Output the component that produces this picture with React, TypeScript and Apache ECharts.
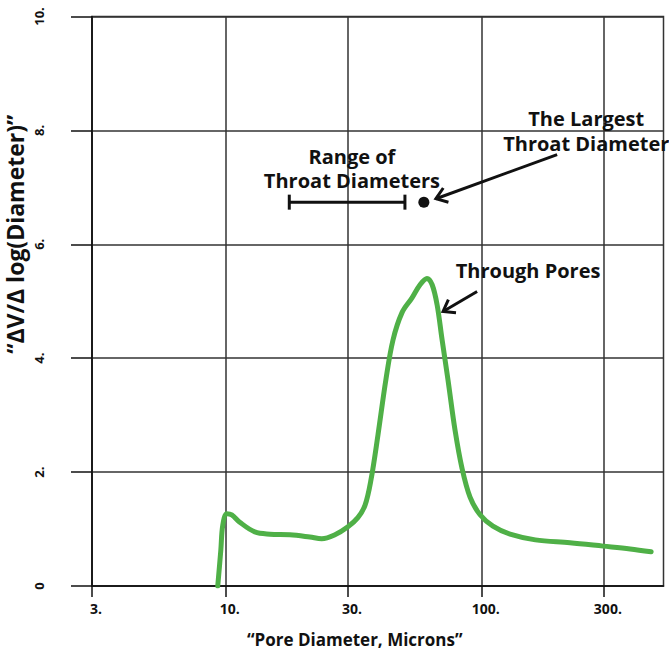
import React, { useEffect, useRef } from 'react';
import * as echarts from 'echarts';

// ---- axes ----
const X_MIN = 3;
const X_MAX = 513;
const X_TICKS = [3, 10, 30, 100, 300];
const Y_MIN = 0;
const Y_MAX = 10;
const Y_INTERVAL = 2;

// ---- pore size distribution curve ----
const diameters = [9.3, 9.56, 9.73, 10.09, 10.55, 11.34, 12.98, 14.86, 17.8, 21.3, 23.7, 26.7, 30.0, 32.8, 35.0, 36.9, 39.3, 42.2, 45.0, 48.8, 53.4, 57.4, 61.1, 64.0, 66.9, 70.0, 73.8, 78.6, 83.7, 90.0, 98.5, 110.6, 129, 162, 221, 298, 380, 459];
const dvdlogd = [0, 0.63, 1.07, 1.27, 1.25, 1.12, 0.95, 0.91, 0.9, 0.86, 0.83, 0.9, 1.04, 1.2, 1.42, 1.86, 2.65, 3.62, 4.32, 4.8, 5.06, 5.29, 5.4, 5.29, 4.94, 4.32, 3.62, 2.74, 2.07, 1.56, 1.25, 1.05, 0.91, 0.81, 0.76, 0.7, 0.65, 0.6];

// ---- annotations ----
const throatRange = [17.7, 50.1]; // range of throat diameters
const throatRangeY = 6.74;
const largestThroat = [59.4, 6.74];
const arrowStarts = [[197, 7.575], [95.9, 5.17]];
const arrowEnds = [[66.2, 6.8], [70.6, 4.82]];
const noteTexts = ['The Largest', 'Throat Diameter', 'Range of', 'Throat Diameters', 'Through Pores'];
const notePositions = [[256, 8.205], [256, 7.775], [31.1, 7.545], [31.1, 7.115], [151.7, 5.54]];

const FONT = '"Open Sans", Lato, "DejaVu Sans", sans-serif';
const lg = (v: number) => Math.log10(v);

export default function App() {
  const ref = useRef<HTMLDivElement>(null);
  useEffect(() => {
    if (!ref.current) return;
    const chart = echarts.init(ref.current, null, { renderer: 'svg' });
    const option: any = {
      animation: false,
      backgroundColor: '#ffffff',
      grid: {
        left: 92,
        right: 5.5,
        top: 16.5,
        bottom: 70,
        outerBoundsMode: 'none',
        containLabel: false,
        show: true,
        borderColor: '#333',
        borderWidth: 1.5,
      },
      xAxis: {
        type: 'value',
        min: lg(X_MIN),
        max: lg(X_MAX),
        name: '“Pore Diameter, Microns”',
        nameLocation: 'middle',
        nameGap: 45,
        nameMoveOverlap: false,
        nameTextStyle: {
          fontFamily: FONT,
          fontWeight: 'bold',
          fontSize: 17,
          color: '#111',
          padding: [0, 46, 0, 0],
        },
        axisLine: { show: true, onZero: false, lineStyle: { color: '#111', width: 1.5 } },
        axisTick: {
          show: true,
          length: 11,
          customValues: X_TICKS.map(lg),
          lineStyle: { color: '#111', width: 1.5 },
        },
        axisLabel: {
          customValues: X_TICKS.map(lg),
          formatter: (v: number) => Math.round(Math.pow(10, v)) + '.',
          fontFamily: FONT,
          fontWeight: 'bold',
          fontSize: 14,
          color: '#111',
          margin: 15,
          padding: [0, 0, 0, 8],
        },
        splitLine: { show: true, lineStyle: { color: '#333', width: 1.5 } },
      },
      yAxis: {
        type: 'value',
        min: Y_MIN,
        max: Y_MAX,
        interval: Y_INTERVAL,
        name: '“ΔV/Δ log(Diameter)”',
        nameLocation: 'middle',
        nameGap: 65,
        nameMoveOverlap: false,
        nameTextStyle: {
          fontFamily: FONT,
          fontWeight: 'bold',
          fontSize: 23,
          lineHeight: 25,
          color: '#111',
          padding: [0, 0, 0, 134],
        },
        axisLine: { show: true, lineStyle: { color: '#111', width: 1.5 } },
        axisTick: { show: true, length: 21, lineStyle: { color: '#111', width: 1.5 } },
        axisLabel: {
          rotate: 90,
          formatter: (v: number) => (v === 0 ? '0' : v + '.'),
          fontFamily: FONT,
          fontWeight: 'bold',
          fontSize: 13,
          color: '#111',
          margin: 47,
        },
        splitLine: { show: true, lineStyle: { color: '#333', width: 1.5 } },
      },
      series: [
        {
          type: 'line',
          data: diameters.map((d, i) => [lg(d), dvdlogd[i]]),
          smooth: 0.35,
          showSymbol: false,
          lineStyle: { color: '#4fb047', width: 5, cap: 'round', join: 'round' },
          z: 5,
          silent: true,
        },
        {
          type: 'custom',
          silent: true,
          z: 6,
          data: [[lg(throatRange[0]), lg(throatRange[1]), throatRangeY]],
          renderItem: (params: any, api: any) => {
            const a = api.coord([api.value(0), api.value(2)]);
            const b = api.coord([api.value(1), api.value(2)]);
            const st = { stroke: '#111', lineWidth: 3 };
            return {
              type: 'group',
              children: [
                { type: 'line', shape: { x1: a[0], y1: a[1], x2: b[0], y2: b[1] }, style: st },
                { type: 'line', shape: { x1: a[0], y1: a[1] - 7.5, x2: a[0], y2: a[1] + 7.5 }, style: st },
                { type: 'line', shape: { x1: b[0], y1: b[1] - 7.5, x2: b[0], y2: b[1] + 7.5 }, style: st },
              ],
            };
          },
        },
        {
          type: 'scatter',
          silent: true,
          z: 6,
          data: [[lg(largestThroat[0]), largestThroat[1]]],
          symbol: 'circle',
          symbolSize: 11,
          itemStyle: { color: '#111', opacity: 1 },
        },
        {
          type: 'custom',
          silent: true,
          z: 6,
          data: arrowStarts.map((s, i) => [lg(s[0]), s[1], lg(arrowEnds[i][0]), arrowEnds[i][1]]),
          renderItem: (params: any, api: any) => {
            const a = api.coord([api.value(0), api.value(1)]);
            const b = api.coord([api.value(2), api.value(3)]);
            const ang = Math.atan2(a[1] - b[1], a[0] - b[0]);
            const L = 13;
            const w = 0.62;
            const p1 = [b[0] + L * Math.cos(ang + w), b[1] + L * Math.sin(ang + w)];
            const p2 = [b[0] + L * Math.cos(ang - w), b[1] + L * Math.sin(ang - w)];
            const st = { stroke: '#111', lineWidth: 3, fill: 'none', lineJoin: 'miter' };
            return {
              type: 'group',
              children: [
                { type: 'line', shape: { x1: a[0], y1: a[1], x2: b[0], y2: b[1] }, style: st },
                { type: 'polyline', shape: { points: [p1, b, p2] }, style: st },
              ],
            };
          },
        },
        {
          type: 'custom',
          silent: true,
          z: 7,
          data: notePositions.map((p) => [lg(p[0]), p[1]]),
          renderItem: (params: any, api: any) => {
            const p = api.coord([api.value(0), api.value(1)]);
            return {
              type: 'text',
              x: p[0],
              y: p[1],
              style: {
                text: noteTexts[params.dataIndex],
                align: 'center',
                verticalAlign: 'middle',
                fontFamily: FONT,
                fontWeight: 'bold',
                fontSize: 20,
                lineHeight: 20,
                fill: '#111',
              },
            };
          },
        },
      ],
    };
    chart.setOption(option);
    return () => chart.dispose();
  }, []);
  return (
    <div
      ref={ref}
      style={{ position: 'fixed', left: 0, top: 0, width: 669, height: 656, background: '#fff' }}
    />
  );
}
